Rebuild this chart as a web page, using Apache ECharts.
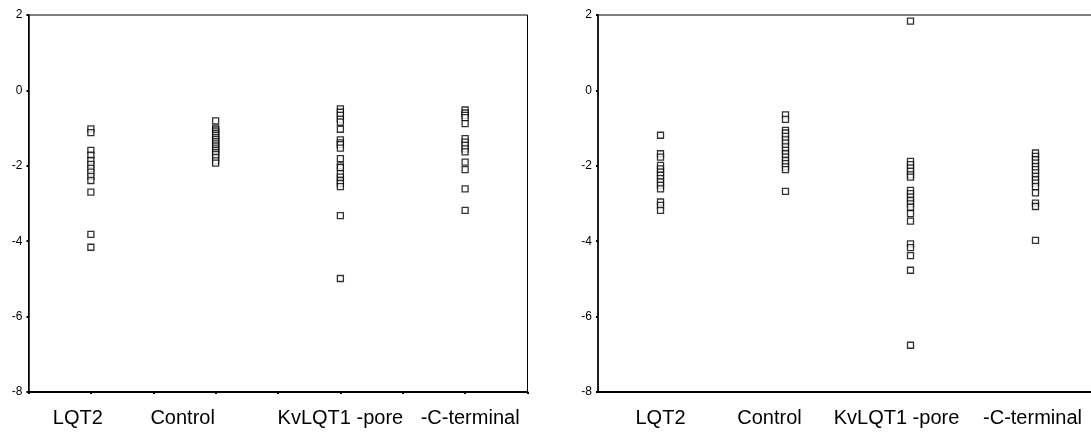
<!DOCTYPE html>
<html>
<head>
<meta charset="utf-8">
<script src="https://cdn.jsdelivr.net/npm/echarts@6/dist/echarts.min.js"></script>
<style>
html,body{margin:0;padding:0;background:#fff;}
#main{width:1091px;height:435px;}
</style>
</head>
<body>
<div id="main"></div>
<script>
var categories = ['LQT2', 'Control', 'KvLQT1 -pore', '-C-terminal'];
var yTicks = [-8, -6, -4, -2, 0, 2];

// left panel
var leftLQT2 = [-1.02, -1.12, -1.59, -1.72, -1.86, -1.96, -2.07, -2.17, -2.28, -2.39, -2.70, -3.82, -4.16];
var leftControl = [-0.81, -1.0, -1.05, -1.1, -1.15, -1.2, -1.25, -1.3, -1.35, -1.4, -1.45, -1.5, -1.55, -1.6, -1.65, -1.7, -1.78, -1.87, -1.93];
var leftPore = [-0.49, -0.58, -0.66, -0.77, -0.84, -1.03, -1.31, -1.39, -1.44, -1.53, -1.81, -2.0, -2.05, -2.21, -2.30, -2.39, -2.47, -2.55, -3.32, -4.99];
var leftCterm = [-0.52, -0.60, -0.66, -0.72, -0.88, -1.28, -1.37, -1.46, -1.55, -1.63, -1.9, -2.1, -2.61, -3.18];

// right panel
var rightLQT2 = [-1.19, -1.68, -1.77, -1.99, -2.08, -2.17, -2.25, -2.34, -2.43, -2.52, -2.61, -2.96, -3.05, -3.18];
var rightControl = [-0.65, -0.77, -1.06, -1.13, -1.22, -1.31, -1.40, -1.50, -1.59, -1.68, -1.77, -1.86, -1.94, -2.03, -2.10, -2.68];
var rightPore = [1.84, -1.88, -1.97, -2.06, -2.15, -2.24, -2.30, -2.65, -2.74, -2.83, -2.92, -3.01, -3.10, -3.27, -3.47, -4.07, -4.17, -4.38, -4.77, -6.76];
var rightCterm = [-1.66, -1.75, -1.84, -1.93, -2.02, -2.10, -2.19, -2.28, -2.37, -2.46, -2.55, -2.72, -2.99, -3.08, -3.98];

var leftGroups = [leftLQT2, leftControl, leftPore, leftCterm];
var rightGroups = [rightLQT2, rightControl, rightPore, rightCterm];

// label offsets (labels in the original are not centred on the columns)
// positive = move left, negative = move right
var leftShift = [26, 66, 0, -10];
var rightShift = [0, 32, 28, 6];

function toPoints(groups) {
	var pts = [];
	for (var i = 0; i < groups.length; i++) {
		for (var j = 0; j < groups[i].length; j++) {
			pts.push([2 * i + 1, groups[i][j]]);
		}
	}
	return pts;
}

function makeRich(shift) {
	var rich = {};
	for (var i = 0; i < shift.length; i++) {
		var s = shift[i];
		rich['c' + i] = {
			fontSize: 20,
			fontFamily: 'Liberation Sans, Arial, sans-serif',
			color: '#000',
			padding: s >= 0 ? [0, s, 0, 0] : [0, 0, 0, -s]
		};
	}
	return rich;
}

function catLabel(v) {
	if (v % 2 == 1) {
		var i = (v - 1) / 2;
		return '{c' + i + '|' + categories[i] + '}';
	}
	return '';
}

function xAxisFor(gi, shift, showTicks) {
	return {
		type: 'value',
		gridIndex: gi,
		min: 0,
		max: 8,
		interval: 1,
		splitLine: {show: false},
		axisLine: {show: true, onZero: false, lineStyle: {color: '#000', width: 2}},
		axisTick: {show: showTicks, inside: false, length: 2, lineStyle: {color: '#000', width: 2}},
		axisLabel: {margin: 16, formatter: catLabel, rich: makeRich(shift)}
	};
}

function yAxisFor(gi) {
	return {
		type: 'value',
		gridIndex: gi,
		min: -8,
		max: 2,
		interval: 2,
		splitLine: {show: false},
		axisLine: {show: true, onZero: false, lineStyle: {color: '#000', width: 1.5}},
		axisTick: {show: true, length: 2, lineStyle: {color: '#000', width: 2}},
		axisLabel: {
			margin: 6,
			color: '#000',
			fontSize: 12,
			fontFamily: 'Liberation Sans, Arial, sans-serif',
			formatter: function (v) { return yTicks.indexOf(v) >= 0 ? String(v) : ''; }
		}
	};
}

var markStyle = {color: '#fff', borderColor: '#000', borderWidth: 1.3};

var myChart = echarts.init(document.getElementById('main'));
var option = {
	animation: false,
	backgroundColor: '#fff',
	grid: [
		{left: 28.5, top: 15, width: 499, height: 377, show: true, borderColor: '#000', borderWidth: 1, outerBoundsMode: 'none'},
		{left: 598, top: 15, width: 500, height: 377, show: true, borderColor: '#000', borderWidth: 1, outerBoundsMode: 'none'}
	],
	xAxis: [xAxisFor(0, leftShift, true), xAxisFor(1, rightShift, false)],
	yAxis: [yAxisFor(0), yAxisFor(1)],
	series: [
		{type: 'scatter', xAxisIndex: 0, yAxisIndex: 0, symbol: 'rect', symbolSize: 6, itemStyle: markStyle, data: toPoints(leftGroups)},
		{type: 'scatter', xAxisIndex: 1, yAxisIndex: 1, symbol: 'rect', symbolSize: 6, itemStyle: markStyle, data: toPoints(rightGroups)}
	]
};
myChart.setOption(option);
</script>
</body>
</html>
